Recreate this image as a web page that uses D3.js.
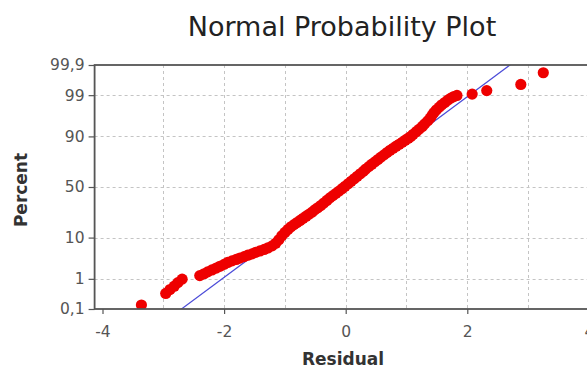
<!DOCTYPE html>
<html>
<head>
<meta charset="utf-8">
<script src="https://cdn.jsdelivr.net/npm/d3@7/dist/d3.min.js"></script>
<style>
  html, body { margin: 0; padding: 0; background: #fff; }
  svg { display: block; }
</style>
</head>
<body>
<svg id="chart" width="587" height="370"></svg>
<script>
// Ordered residuals and their plotting positions (percent)
const residuals = [
  -3.36, -2.96, -2.89, -2.82, -2.76, -2.69,
  -2.40, -2.33, -2.27, -2.20, -2.13, -2.07, -2.00, -1.94,
  -1.87, -1.80, -1.74, -1.67, -1.61,
  -1.54, -1.48, -1.41, -1.34, -1.28,
  -1.21, -1.15, -1.10, -1.05, -1.00, -0.95,
  -0.90, -0.85, -0.80, -0.75,
  -0.70, -0.65, -0.60,
  -0.55, -0.51, -0.46,
  -0.41, -0.36, -0.31, -0.26,
  -0.21, -0.16, -0.11,
  -0.06, -0.01, 0.04, 0.09, 0.14, 0.19, 0.24,
  0.29, 0.33, 0.38, 0.43, 0.48,
  0.53, 0.58, 0.63, 0.68, 0.73,
  0.78, 0.83, 0.88, 0.93, 0.98, 1.03, 1.07,
  1.11, 1.16, 1.21, 1.26, 1.30,
  1.35, 1.39, 1.42, 1.45, 1.49,
  1.54, 1.58, 1.63, 1.68,
  1.73, 1.78, 1.83,
  2.08, 2.32, 2.88, 3.25
];
const percents = [
  0.14, 0.35, 0.47, 0.60, 0.77, 0.98,
  1.24, 1.40, 1.58, 1.78, 2.00, 2.23, 2.50, 2.80,
  3.07, 3.33, 3.59, 3.89, 4.20,
  4.52, 4.90, 5.27, 5.69, 6.14,
  6.79, 7.72, 9.06, 10.83, 12.47, 14.10,
  15.70, 17.01, 18.41, 19.85,
  21.37, 22.96, 24.60,
  26.31, 28.10, 29.91,
  31.92, 34.27, 36.69, 39.13,
  41.37, 43.60, 45.86,
  48.28, 50.76, 53.30, 55.80, 58.24, 60.68, 63.08,
  65.36, 67.58, 69.74, 71.84, 73.76,
  75.71, 77.52, 79.22, 80.84, 82.41,
  83.69, 84.92, 86.06, 87.16, 88.20, 89.18, 89.95,
  90.91, 91.94, 92.88, 93.74, 94.51,
  95.31, 95.95, 96.52, 97.01, 97.45,
  97.85, 98.13, 98.38, 98.61,
  98.78, 98.90, 98.98,
  99.07, 99.27, 99.53, 99.81
];

// Fitted normal reference line
const fitMean = 0;
const fitSd = 0.874;

// Axis ticks
const xTicks = [-4, -2, 0, 2, 4];
const xGrid = [-3, -2, -1, 0, 1, 2, 3];
const yTickPercents = [0.1, 1, 10, 50, 90, 99, 99.9];
const yTickLabels = ["0,1", "1", "10", "50", "90", "99", "99,9"];
const yGridPercents = [1, 10, 50, 90, 99];

// Inverse standard normal CDF (Acklam's rational approximation)
function qnorm(p) {
  const a = [-3.969683028665376e+01, 2.209460984245205e+02, -2.759285104469687e+02,
             1.383577518672690e+02, -3.066479806614716e+01, 2.506628277459239e+00];
  const b = [-5.447609879822406e+01, 1.615858368580409e+02, -1.556989798598866e+02,
             6.680131188771972e+01, -1.328068155288572e+01];
  const c = [-7.784894002430293e-03, -3.223964580411365e-01, -2.400758277161838e+00,
             -2.549671348979064e+00, 4.374664141464968e+00, 2.938163982698783e+00];
  const d = [7.784695709041462e-03, 3.224671290700398e-01, 2.445134137142996e+00,
             3.754408661907416e+00];
  const plow = 0.02425, phigh = 1 - plow;
  let q, r;
  if (p < plow) {
    q = Math.sqrt(-2 * Math.log(p));
    return (((((c[0]*q+c[1])*q+c[2])*q+c[3])*q+c[4])*q+c[5]) /
           ((((d[0]*q+d[1])*q+d[2])*q+d[3])*q+1);
  } else if (p <= phigh) {
    q = p - 0.5; r = q * q;
    return (((((a[0]*r+a[1])*r+a[2])*r+a[3])*r+a[4])*r+a[5])*q /
           (((((b[0]*r+b[1])*r+b[2])*r+b[3])*r+b[4])*r+1);
  } else {
    q = Math.sqrt(-2 * Math.log(1 - p));
    return -(((((c[0]*q+c[1])*q+c[2])*q+c[3])*q+c[4])*q+c[5]) /
            ((((d[0]*q+d[1])*q+d[2])*q+d[3])*q+1);
  }
}

const svg = d3.select("#chart");
const plotLeft = 94.6, plotRight = 596.8, plotTop = 65, plotBottom = 309;

const x = d3.scaleLinear().domain([-4.13, 4.13]).range([plotLeft, plotRight]);
// Probability scale: linear in normal quantile
const yq = d3.scaleLinear().domain([qnorm(0.001), qnorm(0.999)]).range([plotBottom, plotTop]);
const y = p => yq(qnorm(p / 100));

const font = "'DejaVu Sans', Verdana, sans-serif";

// Title
svg.append("text")
  .attr("x", 342).attr("y", 36)
  .attr("text-anchor", "middle")
  .style("font-family", font).style("font-size", "27px")
  .attr("fill", "#222")
  .text("Normal Probability Plot");

// Grid
const grid = svg.append("g")
  .attr("stroke", "#c4c4c4").attr("stroke-width", 1)
  .attr("stroke-dasharray", "3,3");
grid.selectAll("line.h").data(yGridPercents).join("line")
  .attr("class", "h")
  .attr("x1", plotLeft).attr("x2", plotRight)
  .attr("y1", d => Math.round(y(d)) + 0.5).attr("y2", d => Math.round(y(d)) + 0.5);
grid.selectAll("line.v").data(xGrid).join("line")
  .attr("class", "v")
  .attr("y1", plotTop).attr("y2", plotBottom)
  .attr("x1", d => Math.round(x(d)) + 0.5).attr("x2", d => Math.round(x(d)) + 0.5);

// Clip for plotted marks
svg.append("clipPath").attr("id", "plot-clip")
  .append("rect").attr("x", plotLeft).attr("y", plotTop)
  .attr("width", plotRight - plotLeft).attr("height", plotBottom - plotTop);

const plot = svg.append("g").attr("clip-path", "url(#plot-clip)");

// Reference line
const qEnds = [qnorm(0.0005), qnorm(0.9995)];
plot.append("line")
  .attr("x1", x(fitMean + fitSd * qEnds[0])).attr("y1", yq(qEnds[0]))
  .attr("x2", x(fitMean + fitSd * qEnds[1])).attr("y2", yq(qEnds[1]))
  .attr("stroke", "#4b4bd8").attr("stroke-width", 1.2);

// Points
const pts = residuals.map((r, i) => ({ r, p: percents[i] }));
plot.selectAll("circle").data(pts).join("circle")
  .attr("cx", d => x(d.r))
  .attr("cy", d => y(d.p))
  .attr("r", 5.6)
  .attr("fill", "#ee0000");

// Axes
const xAxis = d3.axisBottom(x).tickValues(xTicks).tickFormat(d => String(d))
  .tickSize(5).tickPadding(12);
const gx = svg.append("g").attr("transform", `translate(0,${plotBottom})`).call(xAxis);

const yAxis = d3.axisLeft(yq)
  .tickValues(yTickPercents.map(p => qnorm(p / 100)))
  .tickFormat((d, i) => yTickLabels[i])
  .tickSize(6).tickPadding(4);
const gy = svg.append("g").attr("transform", `translate(${plotLeft},0)`).call(yAxis);

[gx, gy].forEach(g => {
  g.select(".domain").remove();
  g.selectAll(".tick line").attr("stroke", "#555").attr("stroke-width", 1.2);
  g.selectAll(".tick text")
    .style("font-family", font).style("font-size", "15.5px")
    .attr("fill", "#555");
});

// Frame
svg.append("rect")
  .attr("x", plotLeft).attr("y", plotTop)
  .attr("width", plotRight - plotLeft).attr("height", plotBottom - plotTop)
  .attr("fill", "none").attr("stroke", "#555").attr("stroke-width", 1.8);

// Axis titles
svg.append("text")
  .attr("x", 343).attr("y", 365)
  .attr("text-anchor", "middle")
  .style("font-family", font).style("font-size", "17px").style("font-weight", "bold")
  .attr("fill", "#333")
  .text("Residual");

svg.append("text")
  .attr("transform", "translate(27,190) rotate(-90)")
  .attr("text-anchor", "middle")
  .style("font-family", font).style("font-size", "17px").style("font-weight", "bold")
  .attr("fill", "#333")
  .text("Percent");
</script>
</body>
</html>
